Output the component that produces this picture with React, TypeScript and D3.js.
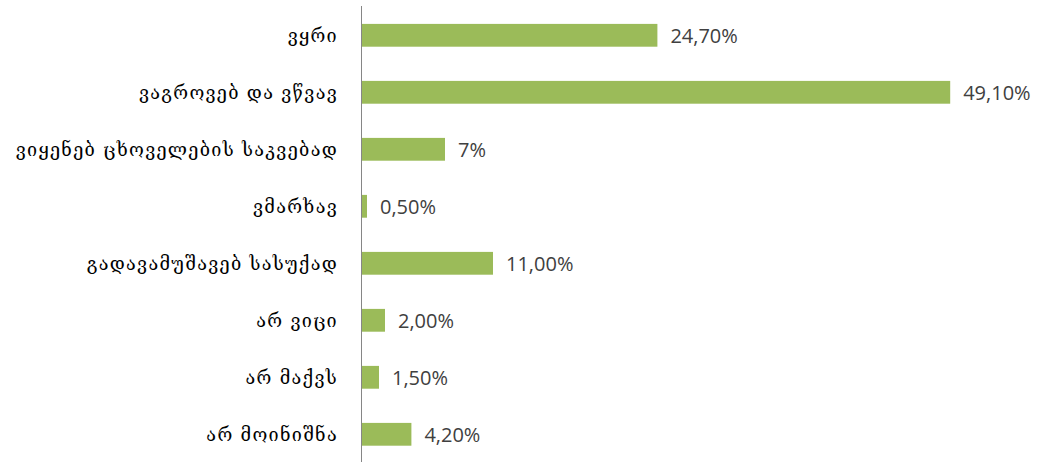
import React, { useEffect, useRef } from 'react';
import * as d3 from 'd3';

const categories = [
  'ვყრი',
  'ვაგროვებ და ვწვავ',
  'ვიყენებ ცხოველების საკვებად',
  'ვმარხავ',
  'გადავამუშავებ სასუქად',
  'არ ვიცი',
  'არ მაქვს',
  'არ მოინიშნა',
];
const values = [24.7, 49.1, 7, 0.5, 11.0, 2.0, 1.5, 4.2];
const valueLabels = ['24,70%', '49,10%', '7%', '0,50%', '11,00%', '2,00%', '1,50%', '4,20%'];

const App: React.FC = () => {
  const svgRef = useRef<SVGSVGElement>(null);

  useEffect(() => {
    if (!svgRef.current) return;
    const width = 1038;
    const height = 462;

    const svg = d3.select(svgRef.current);
    svg.selectAll('*').remove();
    svg.attr('width', width).attr('height', height);

    // Scales
    const x = d3.scaleLinear().domain([0, 50]).range([361, 961]);
    const y = d3.scaleBand<string>()
      .domain(categories)
      .range([6.8, 462.8])
      .paddingInner(0.6)
      .paddingOuter(0.3);

    // Bars
    svg.append('g')
      .selectAll('rect')
      .data(values)
      .enter()
      .append('rect')
      .attr('x', x(0))
      .attr('y', (d, i) => y(categories[i])!)
      .attr('width', d => x(d) - x(0))
      .attr('height', y.bandwidth())
      .style('fill', '#9bbb59');

    // Vertical axis line
    svg.append('line')
      .attr('x1', x(0) + 0.5)
      .attr('x2', x(0) + 0.5)
      .attr('y1', 6)
      .attr('y2', height)
      .style('stroke', '#868686')
      .style('stroke-width', '1px');

    // Category labels (serif Georgian, wide spacing like Sylfaen)
    svg.append('g')
      .selectAll('text')
      .data(categories)
      .enter()
      .append('text')
      .attr('x', 338)
      .attr('y', d => y(d)! + y.bandwidth() / 2)
      .attr('dy', '0.35em')
      .attr('text-anchor', 'end')
      .style('font-family', '"DejaVu Serif", serif')
      .style('font-size', '18px')
      .style('letter-spacing', '1.3px')
      .style('fill', '#000')
      .text(d => d);

    // Value labels
    svg.append('g')
      .selectAll('text')
      .data(values)
      .enter()
      .append('text')
      .attr('x', d => x(d) + 13)
      .attr('y', (d, i) => y(categories[i])! + y.bandwidth() / 2)
      .attr('dy', '0.36em')
      .style('font-family', '"Open Sans", sans-serif')
      .style('font-size', '20px')
      .style('fill', '#404040')
      .text((d, i) => valueLabels[i]);
  }, []);

  return (
    <div style={{ position: 'absolute', left: 0, top: 0, width: 1038, height: 462, background: '#fff' }}>
      <svg ref={svgRef} style={{ display: 'block' }} />
    </div>
  );
};

export default App;
